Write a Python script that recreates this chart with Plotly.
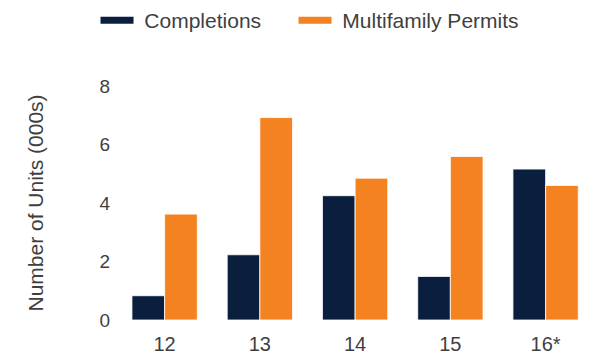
import plotly.graph_objects as go

categories = ["12", "13", "14", "15", "16*"]
completions = [0.83, 2.23, 4.25, 1.49, 5.16]
permits = [3.62, 6.92, 4.85, 5.59, 4.60]
y_ticks = [0, 2, 4, 6, 8]

NAVY = "#0a1f3e"
ORANGE = "#f58220"
FONT = "Liberation Sans, Arial, Helvetica, sans-serif"
TXT = "#3f3f3f"
BORDER = dict(color="rgba(255,255,255,0.8)", width=1)

fig = go.Figure()
fig.add_trace(go.Bar(x=categories, y=completions, marker=dict(color=NAVY, line=BORDER),
                     showlegend=False, name="Completions"))
fig.add_trace(go.Bar(x=categories, y=permits, marker=dict(color=ORANGE, line=BORDER),
                     showlegend=False, name="Multifamily Permits"))
# legend entries drawn as wide swatches
fig.add_trace(go.Scatter(x=[None], y=[None], mode="lines", line=dict(color=NAVY, width=7),
                         name=" Completions", legend="legend"))
fig.add_trace(go.Scatter(x=[None], y=[None], mode="lines", line=dict(color=ORANGE, width=7),
                         name=" Multifamily Permits", legend="legend2"))

leg_common = dict(orientation="h", xref="container", yref="container", y=1.0,
                  xanchor="left", yanchor="top", font=dict(size=21, color=TXT),
                  itemwidth=33, bgcolor="rgba(0,0,0,0)")

fig.update_layout(
    width=590, height=357,
    margin=dict(l=117, r=0, t=86, b=37),
    paper_bgcolor="white", plot_bgcolor="white",
    barmode="group", bargap=0.314, bargroupgap=0,
    font=dict(family=FONT, size=20, color=TXT),
    legend=dict(x=0.1619, **leg_common),
    legend2=dict(x=0.4975, **leg_common),
    xaxis=dict(type="category", range=[-0.5, 4.466], showgrid=False, showline=False, zeroline=False,
               ticks="", ticklabelstandoff=10, tickfont=dict(size=20, color=TXT)),
    yaxis=dict(range=[0, 8], tickvals=y_ticks, showgrid=False, showline=False, zeroline=False,
               ticks="", ticklabelstandoff=6, tickfont=dict(size=19, color=TXT),
               title=dict(text="Number of Units (000s)", font=dict(size=21, color=TXT), standoff=50)),
)
fig.write_html("out.html")
